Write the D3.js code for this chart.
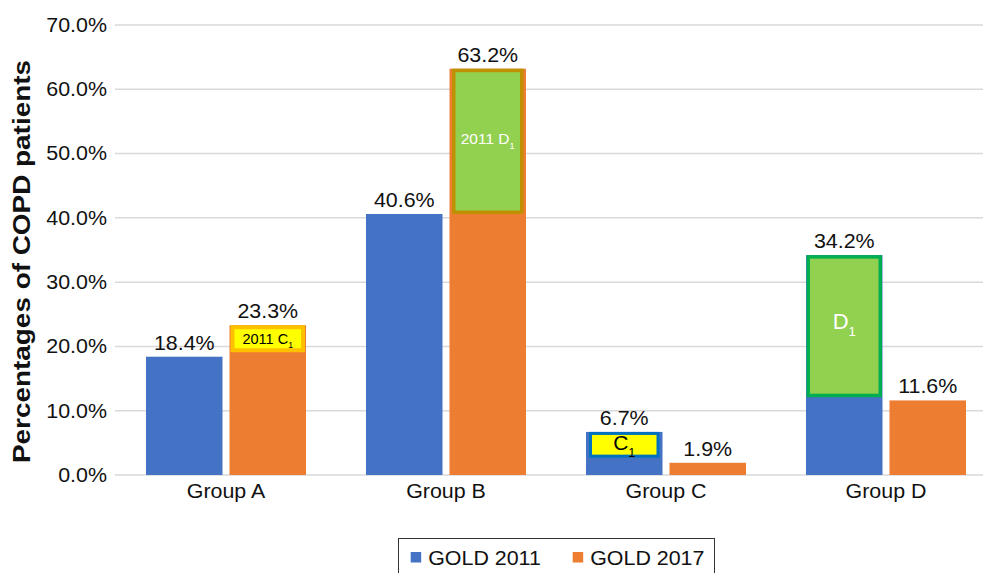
<!DOCTYPE html>
<html lang="en">
<head>
  <meta charset="UTF-8">
  <script src="https://cdn.jsdelivr.net/npm/d3@7"></script>
  <title>COPD groups</title>
  <style>
    body { margin: 0; background: #fff; }
    svg { font-family: "Liberation Sans", Arial, sans-serif; }
  </style>
</head>
<body>
  <svg></svg>
</body>
<script>
const width = 983;
const height = 573;

// data
const groups = ['Group A', 'Group B', 'Group C', 'Group D'];
const seriesNames = ['GOLD 2011', 'GOLD 2017'];
const gold2011 = [18.4, 40.6, 6.7, 34.2];
const gold2017 = [23.3, 63.2, 1.9, 11.6];
const yTicks = [0, 10, 20, 30, 40, 50, 60, 70];

// highlighted sub-blocks drawn inside some bars
const boxGroup = ['Group A', 'Group B', 'Group C', 'Group D'];
const boxSeries = [1, 1, 0, 0];
const boxTop = [23.3, 63.2, 6.7, 34.2];
const boxBottom = [19.1, 40.6, 2.7, 12.1];
const boxLabel = ['2011 C', '2011 D', 'C', 'D'];

// styles for those blocks
const boxFill = ['#ffff00', '#92d050', '#ffff00', '#92d050'];
const boxStroke = ['#ffc000', '#bf9000', '#0070c0', '#00b050'];
const boxStrokeW = [4, 3.5, 3, 3.5];
const boxInsetX = [1, 2.5, 3, 0.5];
const boxText = ['#000', '#fff', '#000', '#fff'];
const boxFont = [14.5, 15.5, 21, 22];
const boxDy = [0, -3, -2, -5];

const colors = ['#4472c4', '#ed7d31'];
const textColor = '#111';
const stretch = 1.07;

const svg = d3.select('svg').attr('width', width).attr('height', height);

const x = d3.scaleBand().domain(groups).range([116, 996]).paddingInner(60 / 220).paddingOuter(30 / 220);
const xs = d3.scaleBand().domain([0, 1]).range([0, x.bandwidth()]).paddingInner(7 / 83.5);
const y = d3.scaleLinear().domain([0, 70]).range([475, 25]);

// widen text slightly, the reference glyphs are a bit broader than Liberation Sans
const widen = (sel, k) => sel.each(function () {
  const len = this.getComputedTextLength();
  d3.select(this).attr('textLength', len * k).attr('lengthAdjust', 'spacingAndGlyphs');
});

// grid
svg.append('g').selectAll('line').data(yTicks).enter().append('line')
  .attr('x1', 115).attr('x2', 985)
  .attr('y1', d => y(d)).attr('y2', d => y(d))
  .attr('stroke', '#d9d9d9').attr('stroke-width', 1.5);

// y axis labels
const yAxis = d3.axisLeft(y).tickValues(yTicks).tickSize(0).tickPadding(8)
  .tickFormat(d => d.toFixed(1) + '%');
const yg = svg.append('g').attr('transform', 'translate(115,0)').call(yAxis);
yg.select('.domain').remove();
yg.attr('font-family', null).attr('font-size', null);
yg.selectAll('text').attr('font-size', 20).attr('fill', textColor).call(widen, stretch);

// x axis labels
const xAxis = d3.axisBottom(x).tickSize(0).tickPadding(9);
const xg = svg.append('g').attr('transform', `translate(0,${y(0)})`).call(xAxis);
xg.select('.domain').remove();
xg.attr('font-family', null).attr('font-size', null);
xg.selectAll('text').attr('font-size', 20).attr('fill', textColor).call(widen, stretch);

// bars + value labels
const data = [gold2011, gold2017];
data.forEach((vals, si) => {
  const g = svg.append('g');
  g.selectAll('rect').data(vals).enter().append('rect')
    .attr('x', (d, i) => x(groups[i]) + xs(si))
    .attr('y', d => y(d))
    .attr('width', xs.bandwidth())
    .attr('height', d => y(0) - y(d))
    .attr('fill', colors[si]);
  g.selectAll('text').data(vals).enter().append('text')
    .attr('x', (d, i) => x(groups[i]) + xs(si) + xs.bandwidth() / 2)
    .attr('y', d => y(d) - 7)
    .attr('text-anchor', 'middle')
    .attr('font-size', 20).attr('fill', textColor)
    .text(d => d.toFixed(1) + '%')
    .call(widen, stretch);
});

// highlight boxes
boxGroup.forEach((gname, i) => {
  const sw = boxStrokeW[i];
  const bx = x(gname) + xs(boxSeries[i]) + boxInsetX[i];
  const bw = xs.bandwidth() - 2 * boxInsetX[i];
  const top = y(boxTop[i]);
  const bottom = y(boxBottom[i]);
  svg.append('rect')
    .attr('x', bx + sw / 2).attr('y', top + sw / 2)
    .attr('width', bw - sw).attr('height', bottom - top - sw)
    .attr('fill', boxFill[i]).attr('stroke', boxStroke[i]).attr('stroke-width', sw);
  const fs = boxFont[i];
  const t = svg.append('text')
    .attr('x', bx + bw / 2)
    .attr('y', (top + bottom) / 2 + fs * 0.36 + boxDy[i])
    .attr('text-anchor', 'middle')
    .attr('font-size', fs)
    .attr('fill', boxText[i]);
  t.append('tspan').text(boxLabel[i]);
  t.append('tspan').attr('font-size', fs * 0.6).attr('dy', fs * 0.3).text('1');
});

// y axis title
svg.append('text')
  .attr('transform', 'translate(30,261.5) rotate(-90)')
  .attr('text-anchor', 'middle')
  .attr('font-size', 23).attr('font-weight', 'bold').attr('fill', textColor)
  .attr('textLength', 403).attr('lengthAdjust', 'spacingAndGlyphs')
  .text('Percentages of COPD patients');

// legend
const lg = svg.append('g');
lg.append('rect').attr('x', 398.5).attr('y', 538.5).attr('width', 316).attr('height', 45)
  .attr('fill', '#fff').attr('stroke', '#333').attr('stroke-width', 1);
const legendX = [410.7, 572.7];
seriesNames.forEach((name, i) => {
  lg.append('rect').attr('x', legendX[i]).attr('y', 552).attr('width', 10.5).attr('height', 10.5).attr('fill', colors[i]);
  lg.append('text').attr('x', legendX[i] + 17.5).attr('y', 565)
    .attr('font-size', 20).attr('fill', textColor).text(name)
    .call(widen, stretch);
});
</script>
</html>
